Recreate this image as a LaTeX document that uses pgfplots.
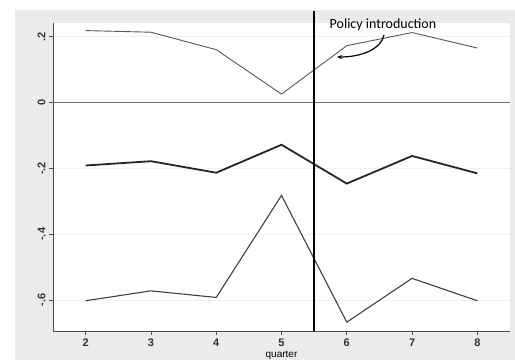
\documentclass[border=0pt]{standalone}
\usepackage{pgfplots}
\pgfplotsset{compat=1.18}
\usepackage{fontspec}
\setmainfont{Liberation Sans}
\newfontfamily\carlito{Carlito}
\usetikzlibrary{arrows.meta}
\begin{document}
\begin{tikzpicture}[x=1pt,y=1pt]
\useasboundingbox (0,0) rectangle (515,360);
\fill[white] (0,0) rectangle (515,360);
\fill[black!8] (15,0) rectangle (515,350);
\begin{axis}[
  at={(53pt,29pt)}, anchor=south west,
  scale only axis, width=457pt, height=308pt,
  xmin=1.5, xmax=8.5, ymin=-0.694, ymax=0.242,
  axis background/.style={fill=white},
  axis x line*=bottom, axis y line*=left,
  axis line style={-, draw=black!70, line width=0.8pt},
  xtick={2,3,4,5,6,7,8},
  ytick={-0.6,-0.4,-0.2,0,0.2},
  yticklabels={-.6,-.4,-.2,0,.2},
  tick align=outside, major tick length=4pt,
  tick style={black!70, line width=0.8pt},
  ymajorgrids, major grid style={black!6, line width=0.8pt},
  /pgf/number format/assume math mode=true,
  ticklabel style={font=\bfseries\fontsize{11}{13}\selectfont, text=black!80},
  yticklabel style={rotate=90, anchor=south},
  xlabel={quarter},
  xlabel style={font=\fontsize{10}{12}\selectfont, at={(axis description cs:0.5,0)}, anchor=base, yshift=-26pt},
  clip=false,
]
\draw[black!55, line width=0.9pt] (axis cs:1.5,0) -- (axis cs:8.5,0);
\addplot[black!65, line width=0.9pt] coordinates {
 (2,0.219) (3,0.214) (4,0.161) (5,0.026) (6,0.173) (7,0.213) (8,0.166)};
\addplot[black!85, line width=1.8pt] coordinates {
 (2,-0.191) (3,-0.178) (4,-0.213) (5,-0.128) (6,-0.246) (7,-0.162) (8,-0.215)};
\addplot[black!75, line width=1.1pt] coordinates {
 (2,-0.602) (3,-0.572) (4,-0.592) (5,-0.282) (6,-0.667) (7,-0.534) (8,-0.602)};
\draw[black, line width=2pt] (axis cs:5.5,-0.694) -- (axis cs:5.5,0.278);
\end{axis}
\node[font=\carlito\fontsize{14}{16}\selectfont, anchor=base, text=black] at (383,332) {Policy introduction};
\draw[black, line width=1.2pt, -{Stealth[length=5pt,width=4pt]}] (384,325) .. controls (381,311) and (362,303) .. (337,303);
\end{tikzpicture}
\end{document}
